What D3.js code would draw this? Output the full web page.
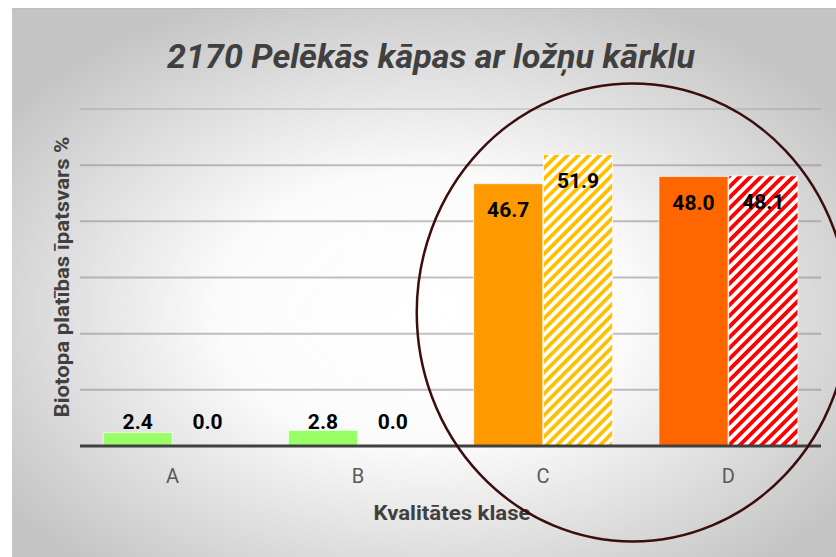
<!DOCTYPE html>
<html>
<head>
<meta charset="utf-8">
<script src="https://cdn.jsdelivr.net/npm/d3@7"></script>
<style>
  body { margin: 0; background: #fff; }
  svg { display: block; }
</style>
</head>
<body>
<div id="chart"></div>
<script>
// data
const categories = ["A", "B", "C", "D"];
const series1 = [2.4, 2.8, 46.7, 48.0];
const series2 = [0.0, 0.0, 51.9, 48.1];
const yTicks = [0, 10, 20, 30, 40, 50, 60];

const W = 836, H = 557;
const plot = {left: 80, right: 821, top: 109, bottom: 446};
const font = "Roboto, 'Noto Sans', sans-serif";

const svg = d3.select("#chart").append("svg")
  .attr("width", W)
  .attr("height", H);

const defs = svg.append("defs");

// background gradient (white centre, grey edges)
const bg = defs.append("radialGradient")
  .attr("id", "bg")
  .attr("cx", "50%").attr("cy", "55%").attr("r", "62%");
bg.append("stop").attr("offset", "0%").attr("stop-color", "#ffffff");
bg.append("stop").attr("offset", "40%").attr("stop-color", "#fbfbfb");
bg.append("stop").attr("offset", "100%").attr("stop-color", "#c4c4c4");

// hatch patterns
function hatch(id, color) {
  const p = defs.append("pattern")
    .attr("id", id)
    .attr("patternUnits", "userSpaceOnUse")
    .attr("width", 7.6).attr("height", 7.6)
    .attr("patternTransform", "rotate(45)");
  p.append("rect").attr("width", 7.6).attr("height", 7.6).attr("fill", "#fff");
  p.append("rect").attr("width", 3.8).attr("height", 7.6).attr("fill", color);
}
hatch("hatchC", "#ffc000");
hatch("hatchD", "#ff0000");

svg.append("rect")
  .attr("x", 12).attr("y", 8)
  .attr("width", W - 12).attr("height", H - 8)
  .attr("fill", "url(#bg)");
svg.append("line")
  .attr("x1", 12).attr("x2", W).attr("y1", 8.5).attr("y2", 8.5)
  .attr("stroke", "#bdbdbd").attr("stroke-width", 1);

// scales
const x0 = d3.scaleBand()
  .domain(categories)
  .range([plot.left, plot.right])
  .paddingInner(0.25)
  .paddingOuter(0.125);

const x1 = d3.scaleBand()
  .domain([0, 1])
  .range([0, x0.bandwidth()])
  .paddingInner(0.01);

const y = d3.scaleLinear()
  .domain([0, 60])
  .range([plot.bottom, plot.top]);

// gridlines
svg.append("g")
  .selectAll("line")
  .data(yTicks.slice(1))
  .join("line")
  .attr("x1", plot.left).attr("x2", plot.right)
  .attr("y1", d => y(d)).attr("y2", d => y(d))
  .attr("stroke", "#8c8c8c")
  .attr("stroke-opacity", d => d === 60 ? 0.3 : 0.55)
  .attr("stroke-width", 2);

// bar colours
const solidFill = ["#99ff66", "#99ff66", "#ff9900", "#ff6600"];
const hatchFill = ["#99ff66", "#99ff66", "url(#hatchC)", "url(#hatchD)"];

const rows = [];
categories.forEach((c, i) => {
  rows.push({cat: c, s: 0, v: series1[i], fill: solidFill[i]});
  rows.push({cat: c, s: 1, v: series2[i], fill: hatchFill[i]});
});

svg.append("g")
  .selectAll("rect")
  .data(rows)
  .join("rect")
  .attr("x", d => x0(d.cat) + x1(d.s))
  .attr("y", d => y(d.v))
  .attr("width", x1.bandwidth())
  .attr("height", d => y(0) - y(d.v))
  .attr("fill", d => d.fill)
  .attr("stroke", "#ffffff")
  .attr("stroke-opacity", d => d.v > 0 ? 0.7 : 0)
  .attr("stroke-width", 1);

// data labels
svg.append("g")
  .selectAll("text")
  .data(rows)
  .join("text")
  .attr("x", d => x0(d.cat) + x1(d.s) + x1.bandwidth() / 2)
  .attr("y", d => d.v < 10 ? y(4.3) : y(d.v) + 26)
  .attr("dy", "0.35em")
  .attr("text-anchor", "middle")
  .attr("font-family", font)
  .attr("font-weight", "bold")
  .attr("font-size", 21)
  .attr("fill", "#000")
  .text(d => d3.format(".1f")(d.v));

// baseline
svg.append("line")
  .attr("x1", plot.left).attr("x2", plot.right)
  .attr("y1", y(0)).attr("y2", y(0))
  .attr("stroke", "#404040")
  .attr("stroke-width", 3);

// x axis labels
const xAxis = svg.append("g")
  .attr("transform", `translate(0,${y(0)})`)
  .call(d3.axisBottom(x0).tickSize(0).tickPadding(23));
xAxis.select(".domain").remove();
xAxis.selectAll("text")
  .attr("font-family", font)
  .attr("font-size", 20)
  .attr("fill", "#595959");

// titles
svg.append("text")
  .attr("x", 431).attr("y", 56)
  .attr("dy", "0.35em")
  .attr("text-anchor", "middle")
  .attr("font-family", font)
  .attr("font-weight", "bold")
  .attr("font-style", "italic")
  .attr("font-size", 34)
  .attr("fill", "#404040")
  .attr("textLength", 528)
  .attr("lengthAdjust", "spacingAndGlyphs")
  .text("2170 Pelēkās kāpas ar ložņu kārklu");

svg.append("text")
  .attr("x", 452).attr("y", 513)
  .attr("dy", "0.35em")
  .attr("text-anchor", "middle")
  .attr("font-family", font)
  .attr("font-weight", "bold")
  .attr("font-size", 20)
  .attr("fill", "#404040")
  .attr("textLength", 157)
  .attr("lengthAdjust", "spacingAndGlyphs")
  .text("Kvalitātes klase");

svg.append("text")
  .attr("transform", "translate(62,277) rotate(-90)")
  .attr("dy", "0.35em")
  .attr("text-anchor", "middle")
  .attr("font-family", font)
  .attr("font-weight", "bold")
  .attr("font-size", 20)
  .attr("fill", "#404040")
  .attr("textLength", 281)
  .attr("lengthAdjust", "spacingAndGlyphs")
  .text("Biotopa platības īpatsvars %");

// highlight ellipse round C and D
svg.append("ellipse")
  .attr("cx", (x0("C") + x0("D") + x0.bandwidth()) / 2 - 3)
  .attr("cy", (y(0) + y(60)) / 2 + 35)
  .attr("rx", 216)
  .attr("ry", 229)
  .attr("fill", "none")
  .attr("stroke", "#3d0c0c")
  .attr("stroke-width", 2.5);
</script>
</body>
</html>
